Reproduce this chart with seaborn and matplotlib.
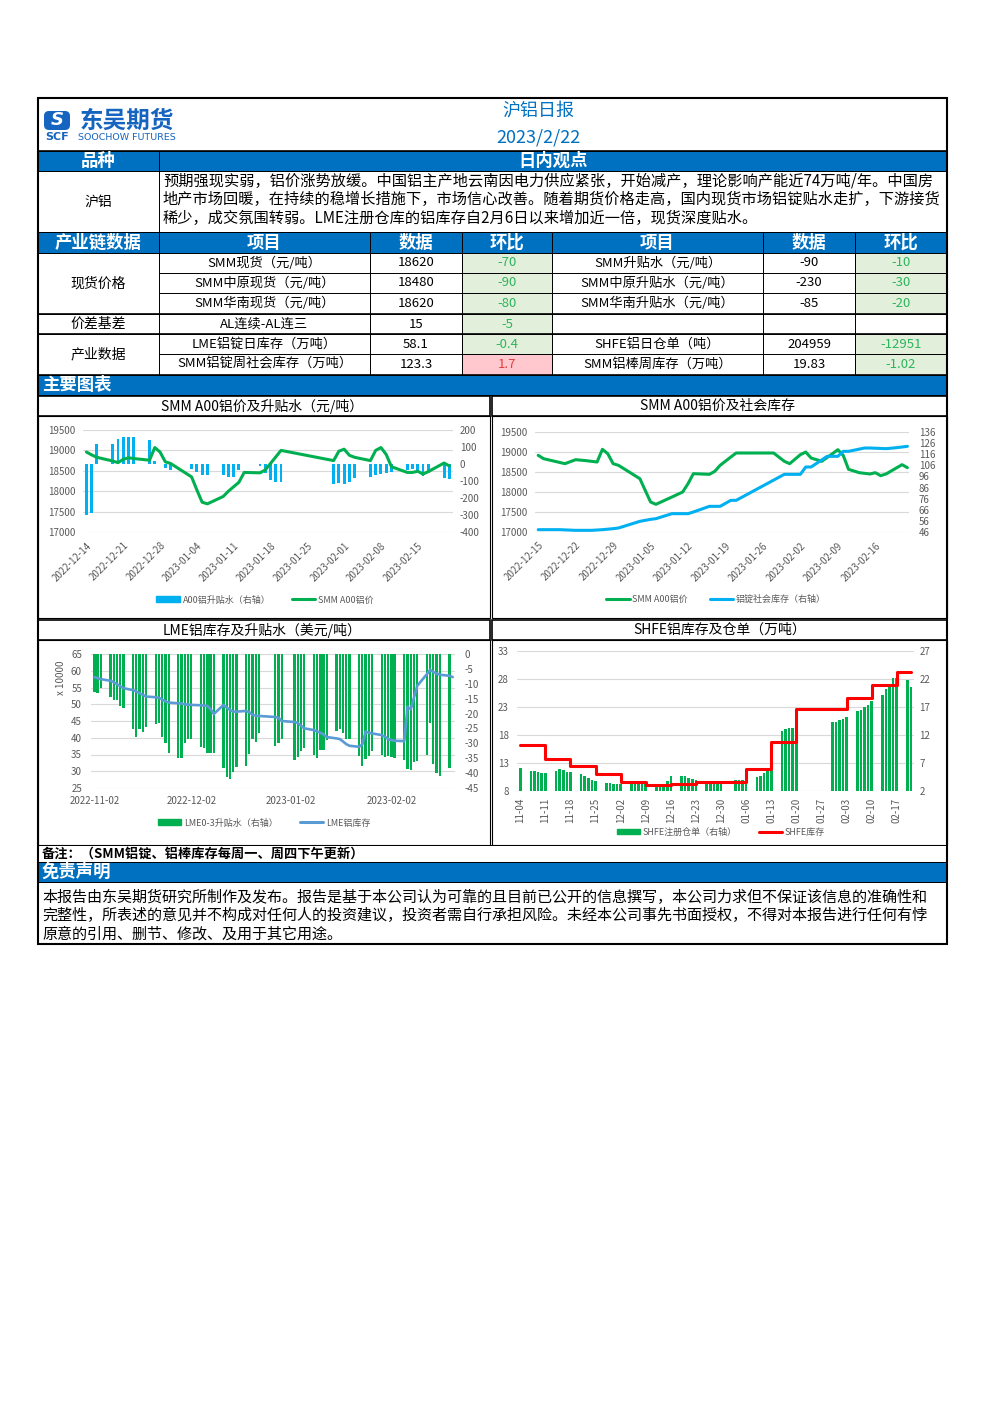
import numpy as np
import pandas as pd
import matplotlib
matplotlib.use('Agg')
import matplotlib.pyplot as plt
import matplotlib.dates as mdates
from matplotlib.patches import Rectangle, Patch, FancyBboxPatch
from matplotlib.lines import Line2D
import seaborn as sns

sns.set_theme(style='white')
plt.rcParams['font.family'] = ['Noto Sans CJK SC', 'DejaVu Sans']
plt.rcParams['axes.unicode_minus'] = False

# ---------------- table data ----------------
opinion_lines = [
    '预期强现实弱，铝价涨势放缓。中国铝主产地云南因电力供应紧张，开始减产，理论影响产能近74万吨/年。中国房',
    '地产市场回暖，在持续的稳增长措施下，市场信心改善。随着期货价格走高，国内现货市场铝锭贴水走扩，下游接货',
    '稀少，成交氛围转弱。LME注册仓库的铝库存自2月6日以来增加近一倍，现货深度贴水。',
]
headers = ['产业链数据', '项目', '数据', '环比', '项目', '数据', '环比']
groups = ['现货价格', '价差基差', '产业数据']
group_rows = [3, 1, 2]
items_l = ['SMM现货（元/吨）', 'SMM中原现货（元/吨）', 'SMM华南现货（元/吨）',
           'AL连续-AL连三', 'LME铝锭日库存（万吨）', 'SMM铝锭周社会库存（万吨）']
vals_l = ['18620', '18480', '18620', '15', '58.1', '123.3']
chg_l = ['-70', '-90', '-80', '-5', '-0.4', '1.7']
items_r = ['SMM升贴水（元/吨）', 'SMM中原升贴水（元/吨）', 'SMM华南升贴水（元/吨）',
           '', 'SHFE铝日仓单（吨）', 'SMM铝棒周库存（万吨）']
vals_r = ['-90', '-230', '-85', '', '204959', '19.83']
chg_r = ['-10', '-30', '-20', '', '-12951', '-1.02']
disclaimer_lines = [
    '本报告由东吴期货研究所制作及发布。报告是基于本公司认为可靠的且目前已公开的信息撰写，本公司力求但不保证该信息的准确性和',
    '完整性，所表述的意见并不构成对任何人的投资建议，投资者需自行承担风险。未经本公司事先书面授权，不得对本报告进行任何有悖',
    '原意的引用、删节、修改、及用于其它用途。',
]

# ---------------- chart 1: SMM A00 price & basis ----------------
c1_dates = ['2022-12-14', '2022-12-15', '2022-12-16', '2022-12-19', '2022-12-20', '2022-12-21',
            '2022-12-22', '2022-12-23', '2022-12-26', '2022-12-27', '2022-12-28', '2022-12-29',
            '2022-12-30', '2023-01-03', '2023-01-04', '2023-01-05', '2023-01-06', '2023-01-09',
            '2023-01-10', '2023-01-11', '2023-01-12', '2023-01-13', '2023-01-16', '2023-01-17',
            '2023-01-18', '2023-01-19', '2023-01-20', '2023-01-30', '2023-01-31', '2023-02-01',
            '2023-02-02', '2023-02-03', '2023-02-06', '2023-02-07', '2023-02-08', '2023-02-09',
            '2023-02-10', '2023-02-13', '2023-02-14', '2023-02-15', '2023-02-16', '2023-02-17',
            '2023-02-20', '2023-02-21']
c1_price = [18960, 18890, 18830, 18740, 18700, 18780, 18820, 18800, 18760, 19070, 18960, 18720,
            18680, 18350, 18030, 17730, 17690, 17870, 18000, 18110, 18220, 18460, 18450, 18520,
            18680, 18840, 19000, 18750, 18980, 19030, 18880, 18830, 18750, 19000, 19070, 18900,
            18600, 18460, 18460, 18490, 18420, 18480, 18690, 18620]
c1_basis = [-300, -290, 120, 120, 145, 160, 160, 160, 140, 20, 0, -25,
            -35, -30, -45, -65, -65, -64, -78, -78, -33, 0, -10, -55,
            -95, -105, -105, -115, -110, -115, -105, -85, -75, -65, -60, -50,
            -45, -35, -30, -40, -70, -50, -80, -90]

# ---------------- chart 2: SMM A00 price & social inventory ----------------
c2_price_dates = ['2022-12-15', '2022-12-16', '2022-12-20', '2022-12-22', '2022-12-24', '2022-12-26',
                  '2022-12-27', '2022-12-28', '2022-12-29', '2022-12-30', '2023-01-03', '2023-01-05',
                  '2023-01-06', '2023-01-09', '2023-01-11', '2023-01-12', '2023-01-13', '2023-01-16',
                  '2023-01-17', '2023-01-18', '2023-01-20', '2023-01-21', '2023-01-28', '2023-01-30',
                  '2023-01-31', '2023-02-02', '2023-02-03', '2023-02-04', '2023-02-06', '2023-02-08',
                  '2023-02-09', '2023-02-10', '2023-02-11', '2023-02-13', '2023-02-15', '2023-02-16',
                  '2023-02-17', '2023-02-18', '2023-02-21', '2023-02-22']
c2_price = [18917, 18833, 18708, 18808, 18783, 18750, 19067, 18958, 18708, 18667, 18333, 17750,
            17692, 17875, 18000, 18208, 18458, 18442, 18517, 18667, 18875, 18975, 18975, 18767,
            18708, 18933, 19000, 18850, 18767, 18958, 19058, 18917, 18567, 18483, 18450, 18483,
            18408, 18450, 18683, 18608]
c2_stock_dates = ['2022-12-15', '2022-12-19', '2022-12-22', '2022-12-25', '2022-12-27', '2022-12-29',
                  '2022-12-30', '2023-01-03', '2023-01-05', '2023-01-06', '2023-01-09', '2023-01-12',
                  '2023-01-13', '2023-01-16', '2023-01-18', '2023-01-20', '2023-01-21', '2023-01-30',
                  '2023-02-02', '2023-02-03', '2023-02-04', '2023-02-07', '2023-02-09', '2023-02-10',
                  '2023-02-11', '2023-02-14', '2023-02-15', '2023-02-18', '2023-02-20', '2023-02-22']
c2_stock = [48.1, 48.1, 47.5, 47.5, 48.1, 49.0, 49.6, 55.6, 57.4, 58.0, 62.5, 62.5,
            64.0, 69.1, 69.1, 74.5, 74.5, 97.9, 97.9, 104.5, 104.5, 114.1, 114.1, 118.6,
            118.6, 121.6, 121.6, 121.0, 121.9, 123.1]

# ---------------- chart 3: LME stock & 0-3 spread ----------------
c3_dates = ['2022-11-02', '2022-11-03', '2022-11-04', '2022-11-07', '2022-11-08', '2022-11-09',
            '2022-11-10', '2022-11-11', '2022-11-14', '2022-11-15', '2022-11-16', '2022-11-17',
            '2022-11-18', '2022-11-21', '2022-11-22', '2022-11-23', '2022-11-24', '2022-11-25',
            '2022-11-28', '2022-11-29', '2022-11-30', '2022-12-01', '2022-12-02', '2022-12-05',
            '2022-12-06', '2022-12-07', '2022-12-08', '2022-12-09', '2022-12-12', '2022-12-13',
            '2022-12-14', '2022-12-15', '2022-12-16', '2022-12-19', '2022-12-20', '2022-12-21',
            '2022-12-22', '2022-12-23', '2022-12-28', '2022-12-29', '2022-12-30', '2023-01-03',
            '2023-01-04', '2023-01-05', '2023-01-06', '2023-01-09', '2023-01-10', '2023-01-11',
            '2023-01-12', '2023-01-13', '2023-01-16', '2023-01-17', '2023-01-18', '2023-01-19',
            '2023-01-20', '2023-01-23', '2023-01-24', '2023-01-25', '2023-01-26', '2023-01-27',
            '2023-01-30', '2023-01-31', '2023-02-01', '2023-02-02', '2023-02-03', '2023-02-06',
            '2023-02-07', '2023-02-08', '2023-02-09', '2023-02-10', '2023-02-13', '2023-02-14',
            '2023-02-15', '2023-02-16', '2023-02-17', '2023-02-20', '2023-02-21']
c3_stock = [58.1, 57.8, 57.5, 57.0, 56.6, 56.0, 55.4, 54.8, 54.2, 53.8, 53.3, 52.8,
            52.3, 52.1, 51.9, 51.4, 50.9, 50.5, 50.3, 50.2, 50.0, 49.9, 49.8, 49.7,
            49.6, 49.5, 48.5, 47.1, 49.8, 49.0, 48.3, 47.8, 47.8, 48.0, 47.6, 46.8,
            46.6, 46.5, 46.2, 46.0, 45.0, 44.7, 44.4, 43.6, 42.8, 42.3, 41.9, 41.5,
            41.0, 40.2, 39.8, 39.6, 38.9, 38.1, 37.6, 37.3, 38.0, 41.8, 41.5, 41.3,
            40.8, 40.3, 39.6, 39.3, 39.1, 39.0, 49.3, 48.5, 52.0, 55.5, 59.0, 60.3,
            59.6, 59.2, 58.8, 58.5, 58.1]
c3_spread = [-12.6, -13.2, -11.3, -14.6, -15.6, -15.4, -17.4, -18.0, -25.2, -28.0, -25.3, -26.1,
             -24.6, -23.6, -23.3, -27.8, -30.0, -33.2, -34.8, -34.8, -30.0, -28.4, -28.4, -31.3,
             -31.5, -33.2, -33.2, -33.4, -38.3, -41.3, -42.1, -39.6, -37.9, -37.6, -33.6, -28.4,
             -29.5, -26.4, -30.8, -30.0, -28.6, -35.7, -34.5, -32.6, -31.5, -34.0, -34.8, -32.3,
             -32.3, -28.9, -25.9, -25.3, -26.4, -28.4, -28.7, -34.3, -37.6, -35.4, -34.3, -32.6,
             -33.8, -34.5, -34.3, -34.5, -34.9, -35.7, -38.5, -39.0, -36.2, -36.0, -34.0, -23.3,
             -36.8, -39.9, -41.0, -38.3, np.nan]

# ---------------- chart 4: SHFE stock & warrants ----------------
c4_dates = ['2022-11-04', '2022-11-07', '2022-11-08', '2022-11-09', '2022-11-10', '2022-11-11',
            '2022-11-14', '2022-11-15', '2022-11-16', '2022-11-17', '2022-11-18', '2022-11-21',
            '2022-11-22', '2022-11-23', '2022-11-24', '2022-11-25', '2022-11-28', '2022-11-29',
            '2022-11-30', '2022-12-01', '2022-12-02', '2022-12-05', '2022-12-06', '2022-12-07',
            '2022-12-08', '2022-12-09', '2022-12-12', '2022-12-13', '2022-12-14', '2022-12-15',
            '2022-12-16', '2022-12-19', '2022-12-20', '2022-12-21', '2022-12-22', '2022-12-23',
            '2022-12-26', '2022-12-27', '2022-12-28', '2022-12-29', '2022-12-30', '2023-01-03',
            '2023-01-04', '2023-01-05', '2023-01-06', '2023-01-09', '2023-01-10', '2023-01-11',
            '2023-01-12', '2023-01-13', '2023-01-16', '2023-01-17', '2023-01-18', '2023-01-19',
            '2023-01-20', '2023-01-30', '2023-01-31', '2023-02-01', '2023-02-02', '2023-02-03',
            '2023-02-06', '2023-02-07', '2023-02-08', '2023-02-09', '2023-02-10', '2023-02-13',
            '2023-02-14', '2023-02-15', '2023-02-16', '2023-02-17', '2023-02-20', '2023-02-21']
c4_warrant = [6.1, 5.6, 5.5, 5.4, 5.3, 5.3, 5.6, 6.0, 5.7, 5.4, 5.35, 5.05,
              4.75, 4.3, 3.9, 3.8, 3.5, 3.4, 3.3, 3.3, 3.3, 3.3, 3.3, 3.3,
              3.3, 3.2, 3.2, 3.2, 3.3, 3.7, 4.6, 4.6, 4.6, 4.3, 4.1, 3.9,
              3.3, 3.3, 3.3, 3.3, 3.3, 4.0, 4.0, 4.0, 4.4, 4.5, 4.7, 5.2,
              6.0, 9.0, 12.7, 13.1, 13.25, 13.3, 13.55, 14.3, 14.4, 14.6, 14.9, 15.15,
              16.3, 16.5, 17.0, 17.3, 18.0, 19.1, 20.3, 20.9, 22.2, 22.2, 21.8, 20.5]
c4_stock_dates = ['2022-11-04', '2022-11-11', '2022-11-18', '2022-11-25', '2022-12-02', '2022-12-09',
                  '2022-12-16', '2022-12-23', '2022-12-30', '2023-01-06', '2023-01-13', '2023-01-20',
                  '2023-02-03', '2023-02-10', '2023-02-17', '2023-02-21']
c4_stock = [16.15, 13.8, 12.5, 11.0, 9.55, 9.1, 9.3, 9.55, 9.55, 11.9, 16.75, 22.7,
            24.6, 26.9, 29.25, 29.25]

# ---------------- page ----------------
W, H = 992, 1403
BLUE = '#0070C0'
LOGO = '#1565C0'
GRID = '#D9D9D9'
TICK = '#595959'
GREEN = '#00B050'
SKY = '#00B0F0'

fig = plt.figure(figsize=(W / 100, H / 100), dpi=100)
page = fig.add_axes([0, 0, 1, 1])
page.set_xlim(0, W)
page.set_ylim(H, 0)
page.axis('off')


def cell(x0, y0, x1, y1, fc='white', lw=0.7, ec='black'):
    page.add_patch(Rectangle((x0, y0), x1 - x0, y1 - y0, facecolor=fc, edgecolor=ec, linewidth=lw))


def put(x, y, s, size=9.5, color='black', ha='center', weight='normal', **kw):
    page.text(x, y, s, fontsize=size, color=color, ha=ha, va='center', fontweight=weight, **kw)


# header with logo
cell(38, 98, 947, 151, lw=1.2)
page.add_patch(FancyBboxPatch((44, 111), 26, 19, boxstyle='round,pad=0,rounding_size=5',
                              facecolor=LOGO, edgecolor='none'))
put(57, 120, 'S', 13, 'white', weight='bold', style='italic', family='DejaVu Sans')
put(57, 137, 'SCF', 8, LOGO, weight='bold', family='DejaVu Sans')
put(127, 121, '东吴期货', 17, LOGO, weight='bold')
put(127, 137, 'SOOCHOW FUTURES', 6.8, LOGO, family='DejaVu Sans')
put(538, 111, '沪铝日报', 13, BLUE)
put(538, 137, '2023/2/22', 13, BLUE)

# opinion block
cell(38, 151, 159, 171, BLUE)
cell(159, 151, 947, 171, BLUE)
put(98.5, 161, '品种', 12.5, 'white', weight='bold')
put(553, 161, '日内观点', 12.5, 'white', weight='bold')
cell(38, 171, 159, 232)
cell(159, 171, 947, 232)
put(98.5, 202, '沪铝', 10)
for i, line in enumerate(opinion_lines):
    put(163, 181 + i * 18.5, line, 10.95, ha='left')

# data table
cols = [38, 159, 370, 462, 552, 763, 855, 947]
for j, h in enumerate(headers):
    cell(cols[j], 232, cols[j + 1], 253, BLUE)
    put((cols[j] + cols[j + 1]) / 2, 243, h, 12.5, 'white', weight='bold')
rows = [253, 273, 293, 314, 334, 354, 375]
GFILL, GTXT, RFILL, RTXT = '#E2EFDA', '#2DB55D', '#FFC7CE', '#E0403F'
for i in range(6):
    y0, y1 = rows[i], rows[i + 1]
    ym = (y0 + y1) / 2
    for j, (txt, col) in enumerate([(items_l[i], None), (vals_l[i], None), (chg_l[i], 'L'),
                                    (items_r[i], None), (vals_r[i], None), (chg_r[i], 'R')]):
        x0, x1 = cols[j + 1], cols[j + 2]
        fc, tc = 'white', 'black'
        if col and txt:
            if txt.startswith('-'):
                fc, tc = GFILL, GTXT
            else:
                fc, tc = RFILL, RTXT
        cell(x0, y0, x1, y1, fc)
        put((x0 + x1) / 2, ym, txt, 9.5, tc)
start = 0
for g, n in zip(groups, group_rows):
    y0, y1 = rows[start], rows[start + n]
    cell(38, y0, 159, y1)
    put(98.5, (y0 + y1) / 2, g, 10)
    page.plot([38, 947], [y1, y1], color='black', lw=1.2)
    start += n

# charts section
cell(38, 375, 947, 395, BLUE)
put(42, 385, '主要图表', 12.5, 'white', ha='left', weight='bold')
for (x0, x1) in [(38, 490), (492, 947)]:
    cell(x0, 396, x1, 416, lw=1.2)
    cell(x0, 416, x1, 618, lw=0.8)
    cell(x0, 620, x1, 640, lw=1.2)
    cell(x0, 640, x1, 845, lw=0.8)
put(262, 406, 'SMM A00铝价及升贴水（元/吨）', 10)
put(718, 406, 'SMM A00铝价及社会库存', 10)
put(262, 630, 'LME铝库存及升贴水（美元/吨）', 10)
put(720, 630, 'SHFE铝库存及仓单（万吨）', 10)

# footer
cell(38, 845, 947, 862)
put(42, 853.5, '备注：（SMM铝锭、铝棒库存每周一、周四下午更新）', 9.5, ha='left', weight='bold')
cell(38, 862, 947, 882, BLUE)
put(42, 872, '免责声明', 12.5, 'white', ha='left', weight='bold')
cell(38, 882, 947, 944)
for i, line in enumerate(disclaimer_lines):
    put(42, 898 + i * 18, line, 10.85, ha='left')
cell(38, 98, 947, 944, fc='none', lw=1.5)


# ---------------- chart helpers ----------------
def px_rect(x0, y0, x1, y1):
    return [x0 / W, 1 - y1 / H, (x1 - x0) / W, (y1 - y0) / H]


def clean(ax):
    ax.set_facecolor('none')
    for s in ax.spines.values():
        s.set_visible(False)
    ax.set_xlabel('')
    ax.set_ylabel('')


def make_axes(rect, lylim, lticks, rylim, rticks, right_on_top=False, lpad=5.5, rpad=5):
    axg = fig.add_axes(px_rect(*rect))
    axg.set_ylim(lylim)
    axg.set_yticks(lticks)
    axg.set_xticks([])
    axg.grid(axis='y', color=GRID, lw=0.8)
    axg.tick_params(left=False, labelleft=False)
    clean(axg)
    if right_on_top:
        axl = fig.add_axes(px_rect(*rect))
        axr = fig.add_axes(px_rect(*rect))
    else:
        axr = fig.add_axes(px_rect(*rect))
        axl = fig.add_axes(px_rect(*rect))
    for ax, lim, ticks in [(axl, lylim, lticks), (axr, rylim, rticks)]:
        ax.set_ylim(lim)
        ax.set_yticks(ticks)
        clean(ax)
        ax.grid(False)
    axr.yaxis.tick_right()
    axr.tick_params(axis='y', length=0, labelsize=7, colors=TICK, pad=rpad,
                    labelright=True, labelleft=False)
    axr.tick_params(axis='x', bottom=False, labelbottom=False)
    axl.tick_params(axis='y', length=0, labelsize=7, colors=TICK, pad=lpad)
    axl.tick_params(axis='x', length=0, labelsize=7, colors=TICK)
    return axl, axr


def set_x(axes, first, last, lo, hi):
    for ax in axes:
        ax.set_xlim(pd.Timestamp(first) - pd.Timedelta(days=lo),
                    pd.Timestamp(last) + pd.Timedelta(days=hi))


def legend(handles, labels, x, y):
    fig.legend(handles, labels, loc='center', bbox_to_anchor=(x / W, 1 - y / H),
               bbox_transform=fig.transFigure, ncol=2, frameon=False, fontsize=6.5,
               labelcolor=TICK, handlelength=2.6, handleheight=0.6, columnspacing=2.4,
               handletextpad=0.3)


# chart 1
axl, axr = make_axes((83, 430, 453, 532), (17000, 19500), range(17000, 19501, 500),
                     (-400, 200), range(-400, 201, 100))
axr.bar(pd.to_datetime(c1_dates), c1_basis, width=0.55, color=SKY, edgecolor='none', linewidth=0)
sns.lineplot(x=pd.to_datetime(c1_dates), y=c1_price, ax=axl, color=GREEN, lw=2.2)
clean(axl)
set_x([axl, axr], '2022-12-14', '2023-02-21', 0.65, 0.7)
axl.set_xticks(pd.date_range('2022-12-14', '2023-02-15', freq='7D'))
axl.xaxis.set_major_formatter(mdates.DateFormatter('%Y-%m-%d'))
axl.tick_params(axis='x', pad=6)
plt.setp(axl.get_xticklabels(), rotation=45, ha='right', rotation_mode='anchor')
legend([Patch(color=SKY), Line2D([], [], color=GREEN, lw=2.2)],
       ['A00铝升贴水（右轴）', 'SMM A00铝价'], 265, 600)

# chart 2
axl, axr = make_axes((535, 432, 909, 532), (17000, 19500), range(17000, 19501, 500),
                     (46, 136), range(46, 137, 10), right_on_top=True, rpad=7)
sns.lineplot(x=pd.to_datetime(c2_price_dates), y=c2_price, ax=axl, color=GREEN, lw=2.2)
sns.lineplot(x=pd.to_datetime(c2_stock_dates), y=c2_stock, ax=axr, color=SKY, lw=2.2)
clean(axl)
clean(axr)
set_x([axl, axr], '2022-12-15', '2023-02-22', 0.6, 0.3)
axl.set_xticks(pd.date_range('2022-12-15', '2023-02-16', freq='7D'))
axl.xaxis.set_major_formatter(mdates.DateFormatter('%Y-%m-%d'))
axl.tick_params(axis='x', pad=6)
axr.tick_params(axis='x', bottom=False, labelbottom=False)
plt.setp(axl.get_xticklabels(), rotation=45, ha='right', rotation_mode='anchor')
legend([Line2D([], [], color=GREEN, lw=2.2), Line2D([], [], color=SKY, lw=2.2)],
       ['SMM A00铝价', '铝锭社会库存（右轴）'], 716, 599)

# chart 3
axl, axr = make_axes((91, 654, 455, 788), (25, 65), range(25, 66, 5),
                     (-45, 0), range(-45, 1, 5), lpad=6.5, rpad=7)
axr.bar(pd.to_datetime(c3_dates), c3_spread, width=0.7, color=GREEN, edgecolor='none', linewidth=0)
sns.lineplot(x=pd.to_datetime(c3_dates), y=c3_stock, ax=axl, color='#5B9BD5', lw=1.9)
clean(axl)
set_x([axl, axr], '2022-11-02', '2023-02-21', 1.05, 0.7)
axl.set_xticks(pd.to_datetime(['2022-11-02', '2022-12-02', '2023-01-02', '2023-02-02']))
axl.xaxis.set_major_formatter(mdates.DateFormatter('%Y-%m-%d'))
axl.tick_params(axis='x', pad=6)
put(61, 678, 'x 10000', 7, TICK, rotation=90)
legend([Patch(color=GREEN), Line2D([], [], color='#5B9BD5', lw=2.2)],
       ['LME0-3升贴水（右轴）', 'LME铝库存'], 264, 823)

# chart 4
axl, axr = make_axes((517, 651, 914, 791), (8, 33), range(8, 34, 5),
                     (2, 27), range(2, 28, 5), lpad=6, rpad=4)
axr.bar(pd.to_datetime(c4_dates), c4_warrant, width=0.72, color=GREEN, edgecolor='none', linewidth=0)
sns.lineplot(x=pd.to_datetime(c4_stock_dates), y=c4_stock, ax=axl, color='#FF0000', lw=2.2,
             drawstyle='steps-post')
clean(axl)
set_x([axl, axr], '2022-11-04', '2023-02-21', 0.9, 0.8)
axl.set_xticks(pd.date_range('2022-11-04', '2023-02-17', freq='7D'))
axl.xaxis.set_major_formatter(mdates.DateFormatter('%m-%d'))
axl.tick_params(axis='x', pad=5)
plt.setp(axl.get_xticklabels(), rotation=90, ha='center', va='top')
legend([Patch(color=GREEN), Line2D([], [], color='#FF0000', lw=2.2)],
       ['SHFE注册仓单（右轴）', 'SHFE库存'], 721, 832)

fig.savefig('out.png', dpi=100)
